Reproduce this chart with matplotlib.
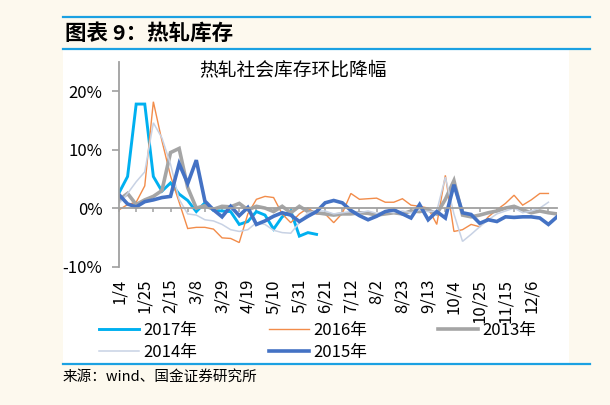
import matplotlib
matplotlib.use('Agg')
import matplotlib.pyplot as plt
from matplotlib.patches import Rectangle
from matplotlib.lines import Line2D
from matplotlib.ticker import FuncFormatter

plt.rcParams['font.family'] = ['Noto Sans CJK SC', 'DejaVu Sans']
plt.rcParams['axes.unicode_minus'] = False

# 数据：每周环比（%），从 1/4 起
tick_labels = ['1/4', '1/25', '2/15', '3/8', '3/29', '4/19', '5/10', '5/31', '6/21',
               '7/12', '8/2', '8/23', '9/13', '10/4', '10/25', '11/15', '12/6']

s2017 = [2.6, 5.4, 17.8, 17.8, 5.4, 2.9, 4.3, 2.4, 1.3, -0.6,
         0.9, -0.4, -0.5, -0.6, -2.8, -2.3, -0.6, -1.2, -3.6, -1.5,
         -0.5, -4.8, -4.2, -4.5]

s2016 = [-0.3, 0.6, 1.0, 3.8, 18.2, 11.5, 5.5, 1.0, -3.5, -3.3,
         -3.3, -3.6, -5.1, -5.2, -5.9, -1.0, 1.5, 2.0, 1.8, -1.0,
         -2.5, -1.0, 0.0, -1.0, -1.0, -2.5, -0.9, 2.5, 1.5, 1.6,
         1.7, 1.0, 1.0, 1.6, 0.5, 0.3, 0.0, -2.8, 5.6, -4.0,
         -3.7, -2.8, -3.2, -1.5, -0.3, 0.8, 2.2, 0.5, 1.4, 2.5,
         2.5]

s2013 = [1.4, 2.5, 0.6, 1.4, 2.0, 3.0, 9.5, 10.2, 3.5, 0.0,
         0.4, -0.2, 0.3, 0.2, 0.8, -0.3, 0.3, 0.0, -0.6, 0.3,
         -0.8, 0.3, -0.6, -0.8, -1.0, -1.2, -1.0, -1.0, -0.8, -0.9,
         -1.2, -1.0, -0.8, -1.0, -0.5, -0.6, -0.3, -1.0, 1.5, 4.7,
         -1.2, -1.5, -1.2, -0.8, -0.5, 0.0, 0.3, -0.3, -0.8, -0.5,
         -0.8, -1.0]

s2014 = [0.8, 2.5, 4.5, 6.2, 14.6, 12.0, 7.5, 1.5, -1.0, -1.2,
         -2.0, -2.2, -2.8, -3.7, -4.0, -3.7, -2.5, -2.8, -3.8, -4.2,
         -4.3, -2.5, -0.8, -0.5, -0.5, -1.0, -0.8, -0.6, -0.8, -0.5,
         -0.9, -0.6, -0.8, -0.5, -0.8, -0.3, -0.6, -0.5, 5.3, -1.0,
         -5.7, -4.5, -3.2, -2.0, -1.0, -0.5, 0.0, -0.8, -0.5, 0.0,
         1.0]

s2015 = [2.3, 0.7, 0.2, 1.1, 1.4, 1.8, 2.0, 7.6, 4.2, 8.2,
         1.2, -0.3, -1.5, 0.3, -1.3, 0.1, -2.8, -2.2, -1.4, -0.8,
         -1.2, -2.3, -1.4, -0.6, 0.9, 1.3, 0.9, -0.4, -1.3, -2.0,
         -1.4, -0.6, -0.3, -1.0, -1.7, 0.6, -2.0, -0.6, -1.7, 4.0,
         -0.8, -1.1, -2.6, -2.0, -2.3, -1.5, -1.6, -1.5, -1.5, -1.7,
         -2.8, -1.5]

W, H = 610, 405
bg = '#FDF9EE'
blue_rule = '#1BA1E2'
axis_gray = '#A0A0A0'

fig = plt.figure(figsize=(W / 100, H / 100), dpi=100, facecolor=bg)

# 白色图区
fig.patches.append(Rectangle((63 / W, 1 - 364 / H), (569 - 63) / W, (364 - 49) / H,
                             transform=fig.transFigure, facecolor='white',
                             edgecolor='none', zorder=-5))
# 蓝色分隔线
for yy in (17, 49, 364):
    fig.lines.append(Line2D([63 / W, 590 / W], [1 - yy / H, 1 - yy / H],
                            transform=fig.transFigure, color=blue_rule, lw=1.6))

fig.text(65 / W, 1 - 33 / H, '图表 9：热轧库存', fontsize=15.5, fontweight='bold',
         va='center', ha='left')
fig.text(63 / W, 1 - 377 / H, '来源：wind、国金证券研究所', fontsize=10.5,
         va='center', ha='left')
fig.text(293 / W, 1 - 70 / H, '热轧社会库存环比降幅', fontsize=13.5,
         va='center', ha='center')

ax = fig.add_axes([119 / W, 1 - 266.5 / H, (557 - 119) / W, (266.5 - 62) / H])
ax.patch.set_alpha(0)

series = [
    ('2017年', s2017, '#00B0F0', 2.1),
    ('2016年', s2016, '#F28C4A', 1.0),
    ('2013年', s2013, '#A5A5A5', 2.6),
    ('2014年', s2014, '#C8D2E4', 1.1),
    ('2015年', s2015, '#4472C4', 2.6),
]
handles = {}
for name, vals, col, lw in series:
    ln, = ax.plot(range(len(vals)), vals, color=col, lw=lw, solid_joinstyle='miter')
    handles[name] = ln

ax.set_xlim(0, 51)
ax.set_ylim(-10, 25)
ax.set_yticks([-10, 0, 10, 20])
ax.yaxis.set_major_formatter(FuncFormatter(lambda v, p: '%d%%' % v))
ax.tick_params(axis='y', length=5, width=1.2, color=axis_gray, pad=7, labelsize=12)

for s in ('top', 'right'):
    ax.spines[s].set_visible(False)
ax.spines['left'].set_color(axis_gray)
ax.spines['left'].set_linewidth(1.3)
ax.spines['bottom'].set_position(('data', 0))
ax.spines['bottom'].set_color(axis_gray)
ax.spines['bottom'].set_linewidth(1.3)
ax.set_xticks(range(0, 52, 2))
ax.tick_params(axis='x', length=3, width=1.1, color=axis_gray, labelbottom=False)

sec = ax.secondary_xaxis('bottom')
sec.spines['bottom'].set_visible(False)
sec.set_xticks(range(0, 49, 3))
sec.set_xticklabels(tick_labels, rotation=90)
sec.tick_params(axis='x', length=0, pad=9, labelsize=12)

order = ['2017年', '2014年', '2016年', '2015年', '2013年']
fig.legend([handles[k] for k in order], order, loc='upper left',
           bbox_to_anchor=(99 / W, 1 - 322 / H), ncol=3, frameon=False,
           fontsize=12, handlelength=2.4, handletextpad=0.25,
           columnspacing=4.3, labelspacing=0.3, borderpad=0, borderaxespad=0)

fig.savefig('out.png', dpi=100, facecolor=bg)
